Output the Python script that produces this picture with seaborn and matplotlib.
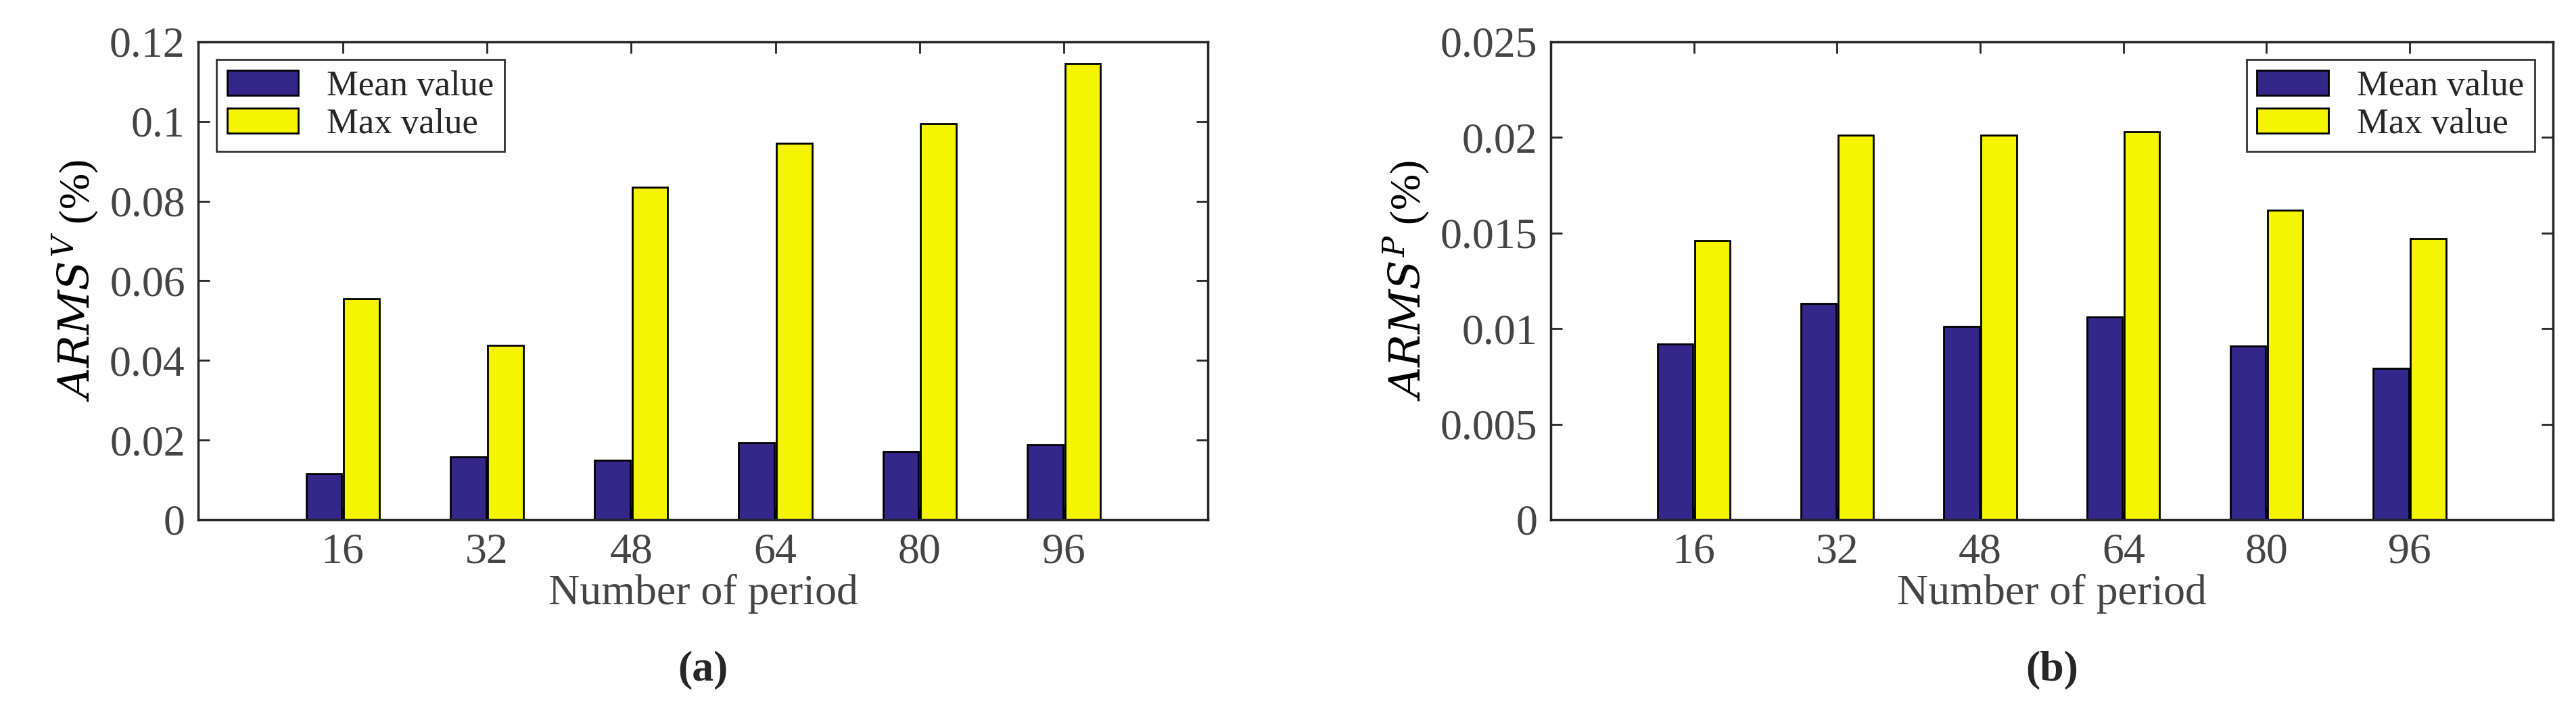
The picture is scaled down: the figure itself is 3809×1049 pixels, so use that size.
import pandas as pd
import matplotlib.pyplot as plt
import seaborn as sns

periods = [16, 32, 48, 64, 80, 96]
mean_v = [0.0115, 0.0157, 0.0150, 0.0194, 0.0172, 0.0189]
max_v = [0.0555, 0.0437, 0.0835, 0.0945, 0.0995, 0.1145]
mean_p = [0.0092, 0.0113, 0.0101, 0.0106, 0.0091, 0.0079]
max_p = [0.0146, 0.0201, 0.0201, 0.0203, 0.0162, 0.0147]
series = ['Mean value', 'Max value']

sns.set_theme(style="ticks")
plt.rcParams['font.family'] = ['Liberation Serif', 'DejaVu Serif']
plt.rcParams['mathtext.fontset'] = 'dejavuserif'

fig = plt.figure(figsize=(38.09, 10.49), dpi=100)
ax1 = fig.add_axes([0.077, 0.267, 0.392, 0.674])
ax2 = fig.add_axes([0.602, 0.267, 0.389, 0.674])

def make_df(m, x):
    return pd.DataFrame({
        'period': periods * 2,
        'value': m + x,
        'series': [series[0]] * 6 + [series[1]] * 6,
    })

panels = [
    (ax1, make_df(mean_v, max_v), 0.12, [0, 0.02, 0.04, 0.06, 0.08, 0.1, 0.12],
     ['0', '0.02', '0.04', '0.06', '0.08', '0.1', '0.12'], r'$ARMS^{V}$ (%)', 'upper left', '(a)'),
    (ax2, make_df(mean_p, max_p), 0.025, [0, 0.005, 0.01, 0.015, 0.02, 0.025],
     ['0', '0.005', '0.01', '0.015', '0.02', '0.025'], r'$ARMS^{P}$ (%)', 'upper right', '(b)'),
]

for ax, df, ymax, yt, ytl, ylab, loc, tag in panels:
    sns.barplot(data=df, x='period', y='value', hue='series', native_scale=True,
                palette=['#35268a', '#f5f500'], saturation=1, width=0.52, gap=0.05,
                edgecolor='black', linewidth=2, ax=ax)
    ax.set_xlim(0, 112)
    ax.set_ylim(0, ymax)
    ax.set_xticks(periods)
    ax.set_xticklabels([str(p) for p in periods])
    ax.set_yticks(yt)
    ax.set_yticklabels(ytl)
    ax.tick_params(direction='in', length=12, width=2, top=True, right=True,
                   labelsize=46, labelcolor='#444444', pad=14)
    for s in ax.spines.values():
        s.set_linewidth(2.5)
        s.set_visible(True)
    ax.set_xlabel('Number of period', fontsize=46, color='#444444', labelpad=2)
    ax.set_ylabel(ylab, fontsize=46, color='black', labelpad=10)
    leg = ax.legend(loc=loc, fontsize=38, frameon=True, fancybox=False,
                    edgecolor='black', borderpad=0.3, handlelength=2.0,
                    labelspacing=0.15, borderaxespad=0.5)
    leg.get_frame().set_linewidth(2)
    leg.set_title(None)
    ax.text(0.5, -0.315, tag, transform=ax.transAxes, ha='center', va='center',
            fontsize=46, fontweight='bold')

fig.savefig('out.png', dpi=100)
